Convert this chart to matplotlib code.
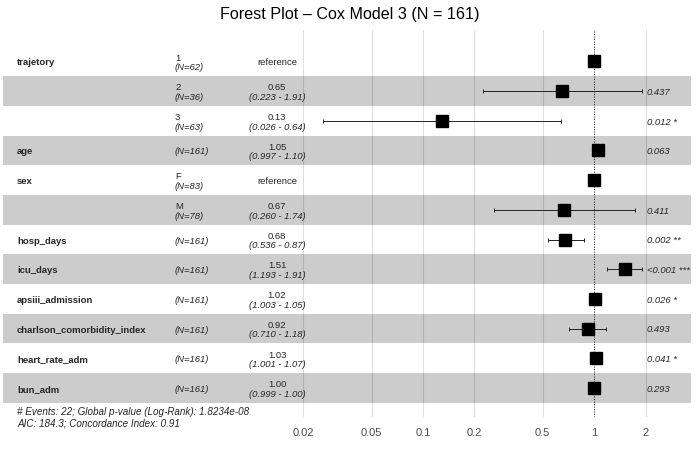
import matplotlib
matplotlib.use("Agg")
import matplotlib.pyplot as plt
import matplotlib.transforms as mtransforms
import numpy as np

plt.rcParams['font.family'] = ['Liberation Sans', 'DejaVu Sans']

# table data, one entry per row (top to bottom)
var_names = ["trajetory", "", "", "age", "sex", "", "hosp_days", "icu_days",
             "apsiii_admission", "charlson_comorbidity_index",
             "heart_rate_adm", "bun_adm"]
levels = ["1", "2", "3", "", "F", "M", "", "", "", "", "", ""]
n_obs = [62, 36, 63, 161, 83, 78, 161, 161, 161, 161, 161, 161]
hr = [1.00, 0.65, 0.13, 1.05, 1.00, 0.67, 0.68, 1.51, 1.02, 0.92, 1.03, 1.00]
ci_low = [np.nan, 0.223, 0.026, 0.997, np.nan, 0.260, 0.536, 1.193, 1.003,
          0.710, 1.001, 0.999]
ci_high = [np.nan, 1.91, 0.64, 1.10, np.nan, 1.74, 0.87, 1.91, 1.05,
           1.18, 1.07, 1.00]
ci_text = ["", "(0.223 - 1.91)", "(0.026 - 0.64)", "(0.997 - 1.10)", "",
           "(0.260 - 1.74)", "(0.536 - 0.87)", "(1.193 - 1.91)",
           "(1.003 - 1.05)", "(0.710 - 1.18)", "(1.001 - 1.07)",
           "(0.999 - 1.00)"]
p_labels = ["", "0.437", "0.012 *", "0.063", "", "0.411", "0.002 **",
            "<0.001 ***", "0.026 *", "0.493", "0.041 *", "0.293"]
x_breaks = [0.02, 0.05, 0.1, 0.2, 0.5, 1, 2]
x_labels = ["0.02", "0.05", "0.1", "0.2", "0.5", "1", "2"]

title = "Forest Plot \u2013 Cox Model 3 (N = 161)"
footer = ["# Events: 22; Global p-value (Log-Rank): 1.8234e-08",
          "AIC: 184.3; Concordance Index: 0.91"]

W, H = 700, 462
fig = plt.figure(figsize=(W / 100, H / 100), dpi=100)
ax = fig.add_axes([3 / W, 1 - 417 / H, 688 / W, 387 / H])

rows = np.arange(1, len(hr) + 1)
ax.set_xscale('log')
ax.set_xlim(3.5e-4, 3.69)
ax.set_ylim(12.98, -0.06)

# grid under the bands
for b in x_breaks:
    ax.axvline(b, color='#DEDEDE', lw=0.8, zorder=0)

for r in rows:
    if r % 2 == 0:
        ax.axhspan(r - 0.5, r + 0.5, color='black', alpha=0.2, lw=0, zorder=1)

ax.axvline(1, color='black', lw=0.6, ls=(0, (1, 2)), zorder=2)

hr_a = np.array(hr)
lo = np.array(ci_low)
hi = np.array(ci_high)
has_ci = ~np.isnan(lo)
ax.errorbar(hr_a[has_ci], rows[has_ci],
            xerr=[hr_a[has_ci] - lo[has_ci], hi[has_ci] - hr_a[has_ci]],
            fmt='none', ecolor='#222222', elinewidth=0.7, capsize=1.6,
            capthick=0.7, zorder=3)
ax.plot(hr_a, rows, 's', color='black', ms=8.5, zorder=4)

for s in ax.spines.values():
    s.set_visible(False)
ax.set_yticks([])
ax.set_xticks(x_breaks)
ax.set_xticklabels(x_labels)
ax.xaxis.set_minor_locator(matplotlib.ticker.NullLocator())
ax.tick_params(axis='x', length=0, pad=8, labelsize=8, labelcolor='#4D4D4D')

# text columns: x in figure pixels, y in data rows
tr = mtransforms.blended_transform_factory(fig.transFigure, ax.transData)
fs = 6.8
txt = '#262626'
up, down, mid = -0.108, 0.212, 0.05
for i, r in enumerate(rows):
    if var_names[i]:
        ax.text(17 / W, r + mid, var_names[i], transform=tr, fontsize=fs,
                fontweight='bold', color=txt, va='center', ha='left')
    n_lab = f"(N={n_obs[i]})"
    if levels[i]:
        ax.text(175 / W, r + up, levels[i], transform=tr, fontsize=fs,
                color=txt, va='center', ha='left')
        ax.text(175 / W, r + down, n_lab, transform=tr, fontsize=fs,
                style='italic', color=txt, va='center', ha='left')
    else:
        ax.text(175 / W, r + mid, n_lab, transform=tr, fontsize=fs,
                style='italic', color=txt, va='center', ha='left')
    if np.isnan(ci_low[i]):
        ax.text(277 / W, r + mid, "reference", transform=tr, fontsize=fs,
                color=txt, va='center', ha='center')
    else:
        ax.text(277 / W, r + up, f"{hr[i]:.2f}", transform=tr, fontsize=fs,
                color=txt, va='center', ha='center')
        ax.text(277 / W, r + down, ci_text[i], transform=tr, fontsize=fs,
                style='italic', color=txt, va='center', ha='center')
    if p_labels[i]:
        ax.text(647 / W, r + 0.04, p_labels[i], transform=tr, fontsize=fs,
                style='italic', color=txt, va='center', ha='left')

fig.text(0.5, 1 - 15 / H, title, fontsize=11.6, ha='center', va='center',
         color='black')
fig.text(17 / W, 1 - 412 / H, footer[0], fontsize=7.1, style='italic',
         color=txt, ha='left', va='center')
fig.text(17 / W, 1 - 424 / H, footer[1], fontsize=7.1, style='italic',
         color=txt, ha='left', va='center')

fig.savefig("out.png", dpi=100)
